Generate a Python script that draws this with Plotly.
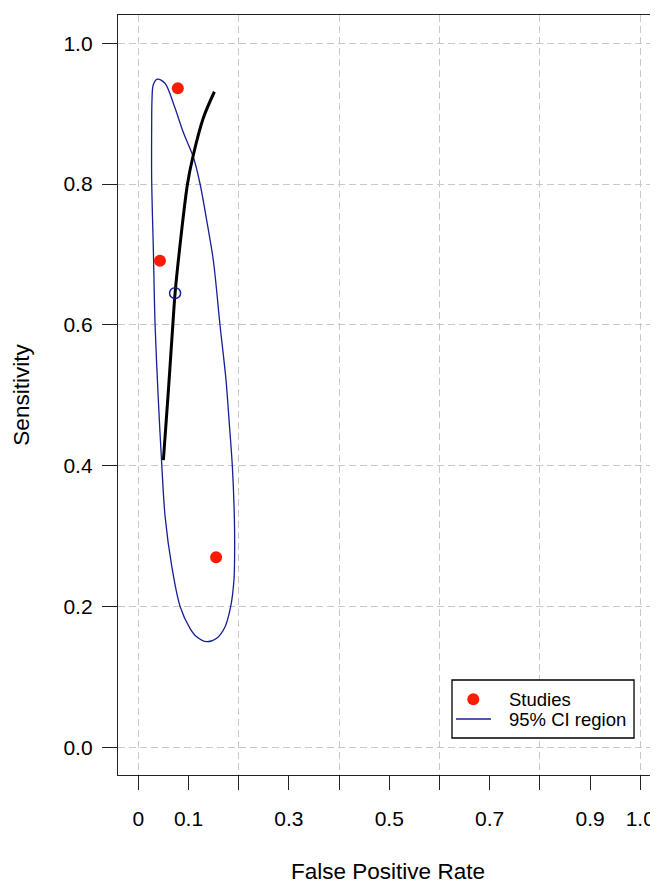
import plotly.graph_objects as go

# ---- data ----
study_fpr = [0.0787, 0.0432, 0.1550]
study_sens = [0.936, 0.691, 0.270]

summary_fpr = [0.0733]
summary_sens = [0.645]

sroc_fpr = [0.050, 0.060, 0.0687, 0.0733, 0.0819, 0.0980, 0.1086, 0.1297, 0.1516]
sroc_sens = [0.408, 0.507, 0.599, 0.645, 0.705, 0.800, 0.838, 0.894, 0.931]

ellipse_fpr = [0.0380, 0.0532, 0.0721, 0.0898, 0.1098, 0.1231, 0.1364, 0.1496,
               0.1629, 0.1747, 0.1813, 0.1873, 0.1912, 0.1920, 0.1906, 0.1841,
               0.1727, 0.1562, 0.1363, 0.1163, 0.1030, 0.0833, 0.0667, 0.0534,
               0.0468, 0.0400, 0.0335, 0.0301, 0.0267, 0.0267, 0.0273, 0.0299,
               0.0380]
ellipse_sens = [0.949, 0.943, 0.910, 0.873, 0.838, 0.800, 0.748, 0.691,
                0.599, 0.522, 0.460, 0.400, 0.332, 0.285, 0.238, 0.200,
                0.171, 0.155, 0.150, 0.157, 0.169, 0.200, 0.257, 0.328,
                0.401, 0.493, 0.599, 0.705, 0.806, 0.882, 0.919, 0.941,
                0.949]

x_tickvals = [0, 0.1, 0.2, 0.3, 0.4, 0.5, 0.6, 0.7, 0.8, 0.9, 1.0]
x_ticktext = ["0", "0.1", "", "0.3", "", "0.5", "", "0.7", "", "0.9", "1.0"]
x_gridvals = [0, 0.2, 0.4, 0.6, 0.8, 1.0]
y_tickvals = [0, 0.2, 0.4, 0.6, 0.8, 1.0]
y_ticktext = ["0.0", "0.2", "0.4", "0.6", "0.8", "1.0"]

legend_labels = ["Studies", "95% CI region"]

FONT = "Liberation Sans, Arial, Helvetica, sans-serif"
BLUE = "#151f96"
RED = "#ff1a00"
BOX = "#222222"
GRID = "#c8c8c8"

fig = go.Figure()

fig.add_trace(go.Scatter(
    x=ellipse_fpr, y=ellipse_sens, mode="lines", name=legend_labels[1],
    line=dict(color=BLUE, width=1.3, shape="spline", smoothing=0.9),
    showlegend=False))

fig.add_trace(go.Scatter(
    x=sroc_fpr, y=sroc_sens, mode="lines", name="SROC",
    line=dict(color="black", width=3, shape="spline", smoothing=0.9),
    showlegend=False))

fig.add_trace(go.Scatter(
    x=study_fpr, y=study_sens, mode="markers", name=legend_labels[0],
    marker=dict(color=RED, size=12, line=dict(width=0)),
    showlegend=False))

fig.add_trace(go.Scatter(
    x=summary_fpr, y=summary_sens, mode="markers", name="Summary",
    marker=dict(symbol="circle-open", color=BLUE, size=11, line=dict(width=1.5)),
    showlegend=False))

# ---- legend box (drawn to match the reference's base-R legend) ----
leg_shapes = [
    dict(type="rect", xref="paper", yref="paper", x0=0.6185, x1=0.9556,
         y0=0.0487, y1=0.125, line=dict(color="black", width=1.3),
         fillcolor="white", layer="above"),
    dict(type="circle", xref="paper", yref="paper", xsizemode="pixel",
         ysizemode="pixel", xanchor=0.658, yanchor=0.0996,
         x0=-6, x1=6, y0=-6, y1=6, fillcolor=RED, line=dict(width=0),
         layer="above"),
    dict(type="line", xref="paper", yref="paper", x0=0.626, x1=0.6907,
         y0=0.0737, y1=0.0737, line=dict(color=BLUE, width=1.5), layer="above"),
]
leg_ann = [
    dict(text=legend_labels[0], xref="paper", yref="paper", x=0.7204, y=0.0987,
         xanchor="left", yanchor="middle", showarrow=False,
         font=dict(size=18.5, family=FONT, color="black")),
    dict(text=legend_labels[1], xref="paper", yref="paper", x=0.7204, y=0.0724,
         xanchor="left", yanchor="middle", showarrow=False,
         font=dict(size=18.5, family=FONT, color="black")),
]

# the page body adds an 8px margin, so the figure is placed 8px in from the corner
fig.update_layout(
    width=650, height=876,
    margin=dict(l=110, r=0, t=7, b=109),
    paper_bgcolor="white", plot_bgcolor="white",
    font=dict(family=FONT, color="black", size=21),
    showlegend=False,
    shapes=leg_shapes,
    annotations=leg_ann,
    xaxis=dict(
        range=[-0.0404, 1.0353], tickvals=x_tickvals, ticktext=x_ticktext,
        ticks="outside", ticklen=14, tickwidth=1.3, tickcolor=BOX,
        showline=True, linecolor=BOX, linewidth=1.3, mirror=True,
        showgrid=False, zeroline=False, ticklabelstandoff=11,
        automargin=False, tickfont=dict(size=21),
        minor=dict(tickvals=x_gridvals, showgrid=True, gridcolor=GRID,
                   griddash="7px,4px", gridwidth=1, ticks=""),
        title=dict(text="False Positive Rate", font=dict(size=22.5), standoff=38)),
    yaxis=dict(
        range=[-0.0393, 1.040], tickvals=y_tickvals, ticktext=y_ticktext,
        ticks="outside", ticklen=15, tickwidth=1.3, tickcolor=BOX,
        showline=True, linecolor=BOX, linewidth=1.3, mirror=False,
        showgrid=True, gridcolor=GRID, griddash="7px,4px", gridwidth=1,
        zeroline=False, ticklabelstandoff=5, automargin=False,
        tickfont=dict(size=21),
        title=dict(text="Sensitivity", font=dict(size=22.5), standoff=27)),
)

fig.write_html("out.html")
